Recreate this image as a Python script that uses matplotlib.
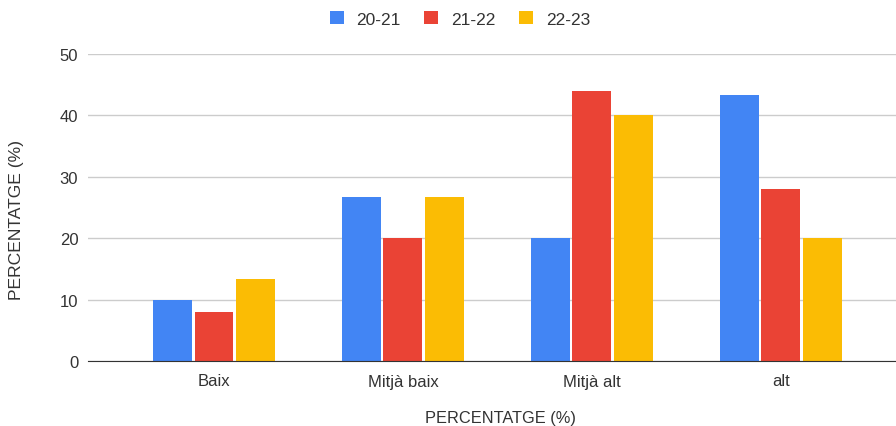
import matplotlib
matplotlib.use("Agg")
import matplotlib.pyplot as plt
import numpy as np

categories = ["Baix", "Mitjà baix", "Mitjà alt", "alt"]
series_names = ["20-21", "21-22", "22-23"]
v_2021 = [10, 26.7, 20, 43.3]
v_2122 = [8, 20, 44, 28]
v_2223 = [13.3, 26.7, 40, 20]
colors = ["#4285F4", "#EA4335", "#FBBC04"]

plt.rcParams['font.family'] = ['Liberation Sans', 'DejaVu Sans']
txt = '#333333'

fig = plt.figure(figsize=(8.96, 4.27), dpi=100)
ax = fig.add_axes([88/896, 1-362/427, 1-88/896, (362-55)/427])

x = np.arange(len(categories))
w = 0.206
step = 0.22
for i, (vals, name) in enumerate(zip([v_2021, v_2122, v_2223], series_names)):
    ax.bar(x + (i-1)*step, vals, width=w, color=colors[i], label=name, zorder=3)

ax.set_ylim(0, 50)
ax.set_xlim(-0.667, 3.61)
ax.set_yticks([0, 10, 20, 30, 40, 50])
ax.set_xticks(x)
ax.set_xticklabels(categories)
ax.grid(axis='y', color='#cccccc', linewidth=1, zorder=0)
for s in ['top', 'right', 'left']:
    ax.spines[s].set_visible(False)
ax.spines['bottom'].set_color('#333333')
ax.spines['bottom'].set_zorder(4)
ax.tick_params(axis='both', length=0, labelsize=12, colors=txt)
ax.tick_params(axis='y', pad=7)
ax.tick_params(axis='x', pad=9)
fig.text(17/896, 1-220/427, "PERCENTATGE (%)", rotation=90, ha='center', va='center',
         fontsize=12.6, color=txt)
fig.text(500/896, 1-419/427, "PERCENTATGE (%)", ha='center', va='center',
         fontsize=11.8, color=txt)

leg = fig.legend(loc='center', bbox_to_anchor=(460/896, 1-20/427), ncol=3, frameon=False,
                 fontsize=12.5, handlelength=0.8, handleheight=0.8, columnspacing=1.35,
                 handletextpad=0.75)
for t in leg.get_texts():
    t.set_color(txt)

fig.savefig("out.png", dpi=100)
